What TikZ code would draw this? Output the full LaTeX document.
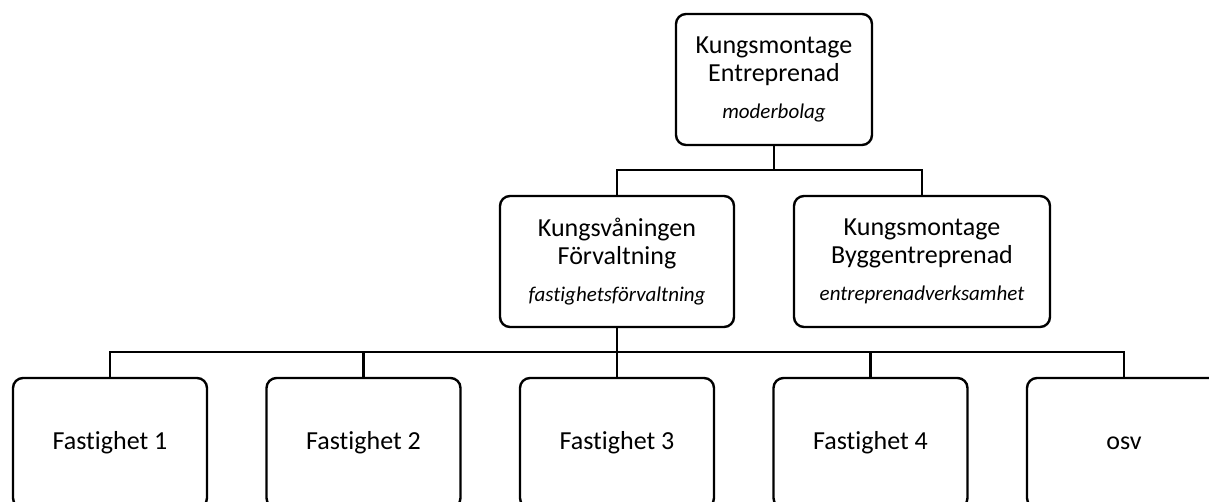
\documentclass[tikz,border=0pt]{standalone}
\usepackage{fontspec}
\setmainfont{Carlito}[Ligatures=CommonOff]
\usetikzlibrary{positioning}

\tikzset{
  org/.style={draw, line width=1.8pt, rounded corners=7.5pt, align=center,
    inner sep=0pt, font=\fontsize{19.5}{21}\selectfont},
  unit/.style={org, minimum height=98.25pt},
  leaf/.style={org, minimum width=145.5pt, minimum height=97.5pt}
}

\begin{document}
\begin{tikzpicture}[x=0.75pt, y=-0.75pt, node distance=190.125pt, on grid, line width=1.8pt]
    \useasboundingbox (0,0) rectangle (1209,502);
    \clip (0,0) rectangle (1209,502);

    % Companies
    \node[unit, minimum width=147pt] (KE) at (774,79.5)
        {Kungsmontage\\Entreprenad\\[6.75pt]{\fontsize{15.75}{19}\selectfont\itshape moderbolag}};
    \node[unit, minimum width=175.5pt] (KF) at (617,261.5)
        {Kungsvåningen\\Förvaltning\\[6.75pt]{\fontsize{15.75}{19}\selectfont\itshape fastighetsförvaltning}};
    \node[unit, minimum width=192pt] (KB) [right=228.75pt of KF]
        {Kungsmontage\\Byggentreprenad\\[6.75pt]{\fontsize{15.75}{19}\selectfont\itshape entreprenadverksamhet}};

    % Properties
    \node[leaf] (F1) at (110,443) {Fastighet 1};
    \node[leaf] (F2) [right=of F1] {Fastighet 2};
    \node[leaf] (F3) [right=of F2] {Fastighet 3};
    \node[leaf] (F4) [right=of F3] {Fastighet 4};
    \node[leaf] (F5) [right=of F4] {osv};

    % Connectors
    \coordinate (top bus) at (774,170);
    \coordinate (sub bus) at (617,352);
    \draw (KE.south) -- (top bus);
    \draw (KF.north) |- (top bus) -| (KB.north);
    \draw (KF.south) -- (sub bus);
    \draw (F1.north) |- (sub bus) -| (F5.north);
    \foreach \n in {2,3,4}
        \draw (F\n.north) -- (F\n.north |- sub bus);
\end{tikzpicture}
\end{document}
